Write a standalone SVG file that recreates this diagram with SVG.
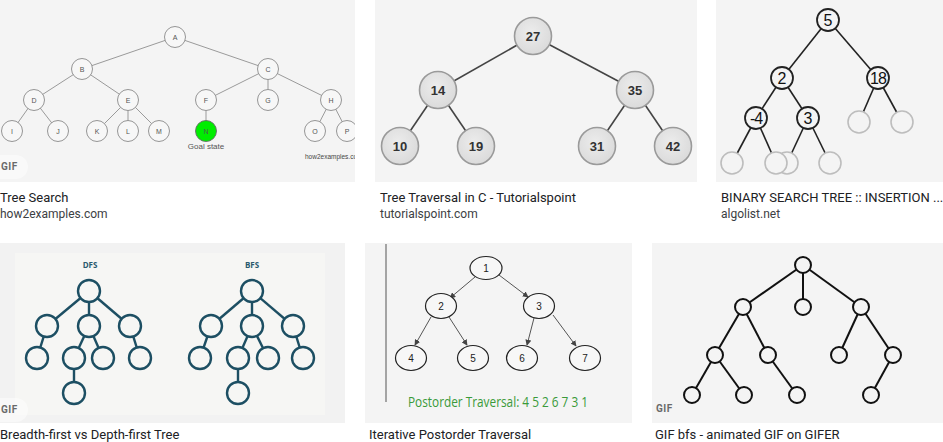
<svg xmlns="http://www.w3.org/2000/svg" width="943" height="442" viewBox="0 0 943 442">
<style>
.bg{fill:#f4f4f4}
.cap{font-family:Roboto,"Liberation Sans",sans-serif;font-size:13px;fill:#202124}
.src{font-family:Roboto,"Liberation Sans",sans-serif;font-size:12px;fill:#3c4043}
.gif{font-family:Roboto,"Liberation Sans",sans-serif;font-size:10px;font-weight:bold;fill:#6a6a6a;letter-spacing:0.5px}
.pill{fill:#ffffff;fill-opacity:0.45}
.e1{stroke:#9a9a9a;stroke-width:1}
.n1{fill:#f7f7f7;stroke:#8a8a8a;stroke-width:0.9}
.t1{font-family:"Liberation Sans",Arial,sans-serif;font-size:7px;fill:#555;text-anchor:middle;dominant-baseline:central}
.e2{stroke:#444;stroke-width:1.6}
.n2{fill:url(#g2);stroke:#9a9a9a;stroke-width:1.6}
.t2{font-family:"Liberation Sans",Arial,sans-serif;font-size:13px;font-weight:bold;fill:#333;text-anchor:middle;dominant-baseline:central}
.e3{stroke:#222;stroke-width:1.6}
.n3{fill:#f4f4f4;stroke:#222;stroke-width:1.8}
.g3{fill:#f4f4f4;stroke:#bdbdbd;stroke-width:1.6}
.t3{font-family:"Liberation Sans",Arial,sans-serif;font-size:16px;fill:#111;text-anchor:middle;dominant-baseline:central}
.e4{stroke:#1d4f63;stroke-width:2.4}
.n4{fill:#f6f6f4;stroke:#1d4f63;stroke-width:2.4}
.t4{font-family:"Open Sans","Liberation Sans",sans-serif;font-size:8px;font-weight:bold;fill:#2a5a6e;text-anchor:middle}
.e5{stroke:#555;stroke-width:1;marker-end:url(#ar)}
.n5{fill:#f7f7f7;stroke:#222;stroke-width:1.2}
.t5{font-family:"Liberation Sans",Arial,sans-serif;font-size:10px;fill:#222;text-anchor:middle;dominant-baseline:central}
.e6{stroke:#111;stroke-width:2}
.n6{fill:#f4f4f4;stroke:#111;stroke-width:2}
</style>
<defs>
<radialGradient id="g2" cx="0.45" cy="0.4" r="0.65">
<stop offset="0" stop-color="#ececec"/>
<stop offset="1" stop-color="#d9d9d9"/>
</radialGradient>
<marker id="ar" viewBox="0 0 8 8" refX="7" refY="4" markerWidth="6" markerHeight="6" orient="auto" markerUnits="userSpaceOnUse">
<path d="M0,0 L8,4 L0,8 z" fill="#444"/>
</marker>
<clipPath id="c1"><rect x="0" y="0" width="355" height="182"/></clipPath>
</defs>
<rect width="943" height="442" fill="#ffffff"/>

<!-- Panel 1: Tree Search -->
<g id="panel1" clip-path="url(#c1)">
<rect class="bg" x="0" y="0" width="355" height="182"/>
<g id="p1-edges">
<line class="e1" x1="175" y1="37" x2="82" y2="69"/>
<line class="e1" x1="175" y1="37" x2="268" y2="69"/>
<line class="e1" x1="82" y1="69" x2="34" y2="100"/>
<line class="e1" x1="82" y1="69" x2="128" y2="100"/>
<line class="e1" x1="268" y1="69" x2="206" y2="100"/>
<line class="e1" x1="268" y1="69" x2="268" y2="100"/>
<line class="e1" x1="268" y1="69" x2="331" y2="100"/>
<line class="e1" x1="34" y1="100" x2="12" y2="131"/>
<line class="e1" x1="34" y1="100" x2="58" y2="131"/>
<line class="e1" x1="128" y1="100" x2="97" y2="131"/>
<line class="e1" x1="128" y1="100" x2="128" y2="131"/>
<line class="e1" x1="128" y1="100" x2="159" y2="131"/>
<line class="e1" x1="206" y1="100" x2="206" y2="131"/>
<line class="e1" x1="331" y1="100" x2="315" y2="131"/>
<line class="e1" x1="331" y1="100" x2="347" y2="131"/>
</g>
<g id="p1-A"><circle class="n1" cx="175" cy="37" r="10.5"/><text class="t1" x="175" y="37">A</text></g>
<g id="p1-B"><circle class="n1" cx="82" cy="69" r="10.5"/><text class="t1" x="82" y="69">B</text></g>
<g id="p1-C"><circle class="n1" cx="268" cy="69" r="10.5"/><text class="t1" x="268" y="69">C</text></g>
<g id="p1-D"><circle class="n1" cx="34" cy="100" r="10.5"/><text class="t1" x="34" y="100">D</text></g>
<g id="p1-E"><circle class="n1" cx="128" cy="100" r="10.5"/><text class="t1" x="128" y="100">E</text></g>
<g id="p1-F"><circle class="n1" cx="206" cy="100" r="10.5"/><text class="t1" x="206" y="100">F</text></g>
<g id="p1-G"><circle class="n1" cx="268" cy="100" r="10.5"/><text class="t1" x="268" y="100">G</text></g>
<g id="p1-H"><circle class="n1" cx="331" cy="100" r="10.5"/><text class="t1" x="331" y="100">H</text></g>
<g id="p1-I"><circle class="n1" cx="12" cy="131" r="10.5"/><text class="t1" x="12" y="131">I</text></g>
<g id="p1-J"><circle class="n1" cx="58" cy="131" r="10.5"/><text class="t1" x="58" y="131">J</text></g>
<g id="p1-K"><circle class="n1" cx="97" cy="131" r="10.5"/><text class="t1" x="97" y="131">K</text></g>
<g id="p1-L"><circle class="n1" cx="128" cy="131" r="10.5"/><text class="t1" x="128" y="131">L</text></g>
<g id="p1-M"><circle class="n1" cx="159" cy="131" r="10.5"/><text class="t1" x="159" y="131">M</text></g>
<g id="p1-N"><circle cx="206" cy="131" r="10.5" fill="#00ee00" stroke="#6a6a6a" stroke-width="0.9"/><text class="t1" x="206" y="131">N</text></g>
<g id="p1-O"><circle class="n1" cx="315" cy="131" r="10.5"/><text class="t1" x="315" y="131">O</text></g>
<g id="p1-P"><circle class="n1" cx="347" cy="131" r="10.5"/><text class="t1" x="347" y="131">P</text></g>
<text x="206" y="149" font-family="'Liberation Sans',Arial,sans-serif" font-size="8" fill="#555" text-anchor="middle">Goal state</text>
<text x="305" y="159" font-family="'Liberation Sans',Arial,sans-serif" font-size="6.5" fill="#444">how2examples.com</text>
<rect class="pill" x="-12" y="155" width="40" height="24" rx="12"/>
<text class="gif" x="1" y="170">GIF</text>
</g>
<text class="cap" x="0" y="202">Tree Search</text>
<text class="src" x="0" y="218">how2examples.com</text>

<!-- Panel 2: Tree Traversal -->
<g id="panel2">
<rect class="bg" x="375" y="0" width="322" height="182" fill="#f2f2f2"/>
<g id="p2-edges">
<line class="e2" x1="533" y1="36" x2="438" y2="90"/>
<line class="e2" x1="533" y1="36" x2="635" y2="90"/>
<line class="e2" x1="438" y1="90" x2="400" y2="146"/>
<line class="e2" x1="438" y1="90" x2="476" y2="146"/>
<line class="e2" x1="635" y1="90" x2="597" y2="146"/>
<line class="e2" x1="635" y1="90" x2="673" y2="146"/>
</g>
<g id="p2-27"><circle class="n2" cx="533" cy="36" r="18.5"/><text class="t2" x="533" y="36">27</text></g>
<g id="p2-14"><circle class="n2" cx="438" cy="90" r="18.5"/><text class="t2" x="438" y="90">14</text></g>
<g id="p2-35"><circle class="n2" cx="635" cy="90" r="18.5"/><text class="t2" x="635" y="90">35</text></g>
<g id="p2-10"><circle class="n2" cx="400" cy="146" r="18.5"/><text class="t2" x="400" y="146">10</text></g>
<g id="p2-19"><circle class="n2" cx="476" cy="146" r="18.5"/><text class="t2" x="476" y="146">19</text></g>
<g id="p2-31"><circle class="n2" cx="597" cy="146" r="18.5"/><text class="t2" x="597" y="146">31</text></g>
<g id="p2-42"><circle class="n2" cx="673" cy="146" r="18.5"/><text class="t2" x="673" y="146">42</text></g>
</g>
<text class="cap" x="380" y="202">Tree Traversal in C - Tutorialspoint</text>
<text class="src" x="380" y="218">tutorialspoint.com</text>

<!-- Panel 3: BST insertion -->
<g id="panel3">
<rect class="bg" x="716" y="0" width="227" height="182"/>
<g id="p3-edges">
<line class="e3" x1="828" y1="20" x2="782" y2="78"/>
<line class="e3" x1="828" y1="20" x2="878" y2="78"/>
<line class="e3" x1="782" y1="78" x2="756" y2="118"/>
<line class="e3" x1="782" y1="78" x2="808" y2="118"/>
<line class="e3" x1="878" y1="78" x2="859" y2="122"/>
<line class="e3" x1="878" y1="78" x2="902" y2="122"/>
<line class="e3" x1="756" y1="118" x2="732" y2="163"/>
<line class="e3" x1="756" y1="118" x2="776" y2="163"/>
<line class="e3" x1="808" y1="118" x2="787" y2="163"/>
<line class="e3" x1="808" y1="118" x2="830" y2="163"/>
</g>
<g id="p3-5"><circle class="n3" cx="828" cy="20" r="11"/><text class="t3" x="828" y="20">5</text></g>
<g id="p3-2"><circle class="n3" cx="782" cy="78" r="11"/><text class="t3" x="782" y="78">2</text></g>
<g id="p3-18"><circle class="n3" cx="878" cy="78" r="11"/><text class="t3" x="878" y="78" letter-spacing="-1">18</text></g>
<g id="p3-m4"><circle class="n3" cx="756" cy="118" r="11"/><text class="t3" x="756" y="118" letter-spacing="-1">-4</text></g>
<g id="p3-3"><circle class="n3" cx="808" cy="118" r="11"/><text class="t3" x="808" y="118">3</text></g>
<g id="p3-e1"><circle class="g3" cx="859" cy="122" r="11"/></g>
<g id="p3-e2"><circle class="g3" cx="902" cy="122" r="11"/></g>
<g id="p3-e3"><circle class="g3" cx="732" cy="163" r="11"/></g>
<g id="p3-e5"><circle class="g3" cx="787" cy="163" r="11"/></g>
<g id="p3-e4"><circle class="g3" cx="776" cy="163" r="11"/></g>
<g id="p3-e6"><circle class="g3" cx="830" cy="163" r="11"/></g>
</g>
<text class="cap" x="721" y="202">BINARY SEARCH TREE :: INSERTION ...</text>
<text class="src" x="721" y="218">algolist.net</text>

<!-- Panel 4: DFS vs BFS -->
<g id="panel4">
<rect x="0" y="243" width="345" height="180" fill="#f2f2f2"/>
<rect x="15" y="253" width="310" height="162" fill="#f6f6f4"/>
<text class="t4" x="90" y="268">DFS</text>
<text class="t4" x="252" y="268">BFS</text>
<g id="p4-edges">
<line class="e4" x1="89" y1="291" x2="47" y2="326"/>
<line class="e4" x1="89" y1="291" x2="89" y2="326"/>
<line class="e4" x1="89" y1="291" x2="130" y2="326"/>
<line class="e4" x1="47" y1="326" x2="37" y2="358"/>
<line class="e4" x1="89" y1="326" x2="74" y2="358"/>
<line class="e4" x1="89" y1="326" x2="103" y2="358"/>
<line class="e4" x1="130" y1="326" x2="140" y2="358"/>
<line class="e4" x1="74" y1="358" x2="74" y2="393"/>
<line class="e4" x1="252" y1="291" x2="211" y2="326"/>
<line class="e4" x1="252" y1="291" x2="252" y2="326"/>
<line class="e4" x1="252" y1="291" x2="293" y2="326"/>
<line class="e4" x1="211" y1="326" x2="200" y2="358"/>
<line class="e4" x1="252" y1="326" x2="238" y2="358"/>
<line class="e4" x1="252" y1="326" x2="268" y2="358"/>
<line class="e4" x1="293" y1="326" x2="303" y2="358"/>
<line class="e4" x1="238" y1="358" x2="238" y2="393"/>
</g>
<g id="p4-d1"><circle class="n4" cx="89" cy="291" r="11"/></g>
<g id="p4-d2"><circle class="n4" cx="47" cy="326" r="11"/></g>
<g id="p4-d3"><circle class="n4" cx="89" cy="326" r="11"/></g>
<g id="p4-d4"><circle class="n4" cx="130" cy="326" r="11"/></g>
<g id="p4-d5"><circle class="n4" cx="37" cy="358" r="11"/></g>
<g id="p4-d6"><circle class="n4" cx="74" cy="358" r="11"/></g>
<g id="p4-d7"><circle class="n4" cx="103" cy="358" r="11"/></g>
<g id="p4-d8"><circle class="n4" cx="140" cy="358" r="11"/></g>
<g id="p4-d9"><circle class="n4" cx="74" cy="393" r="11"/></g>
<g id="p4-b1"><circle class="n4" cx="252" cy="291" r="11"/></g>
<g id="p4-b2"><circle class="n4" cx="211" cy="326" r="11"/></g>
<g id="p4-b3"><circle class="n4" cx="252" cy="326" r="11"/></g>
<g id="p4-b4"><circle class="n4" cx="293" cy="326" r="11"/></g>
<g id="p4-b5"><circle class="n4" cx="200" cy="358" r="11"/></g>
<g id="p4-b6"><circle class="n4" cx="238" cy="358" r="11"/></g>
<g id="p4-b7"><circle class="n4" cx="268" cy="358" r="11"/></g>
<g id="p4-b8"><circle class="n4" cx="303" cy="358" r="11"/></g>
<g id="p4-b9"><circle class="n4" cx="238" cy="393" r="11"/></g>
<rect class="pill" x="-12" y="398" width="40" height="24" rx="12"/>
<text class="gif" x="1" y="413">GIF</text>
</g>
<text class="cap" x="0" y="439">Breadth-first vs Depth-first Tree</text>

<!-- Panel 5: Iterative Postorder -->
<g id="panel5">
<rect class="bg" x="365" y="243" width="267" height="180"/>
<line x1="386" y1="244" x2="386" y2="402" stroke="#555" stroke-width="1"/>
<g id="p5-edges">
<line class="e5" x1="475" y1="277" x2="450" y2="298"/>
<line class="e5" x1="499" y1="275" x2="528" y2="297"/>
<line class="e5" x1="431" y1="317" x2="415" y2="345"/>
<line class="e5" x1="449" y1="317" x2="467" y2="345"/>
<line class="e5" x1="534" y1="318" x2="527" y2="345"/>
<line class="e5" x1="553" y1="315" x2="576" y2="346"/>
</g>
<g id="p5-1"><ellipse class="n5" cx="486" cy="268" rx="16" ry="11.5"/><text class="t5" x="486" y="268">1</text></g>
<g id="p5-2"><ellipse class="n5" cx="441" cy="306" rx="15.5" ry="12.5"/><text class="t5" x="441" y="306">2</text></g>
<g id="p5-3"><ellipse class="n5" cx="539" cy="306" rx="15.5" ry="12.5"/><text class="t5" x="539" y="306">3</text></g>
<g id="p5-4"><ellipse class="n5" cx="411" cy="358" rx="15.5" ry="12.5"/><text class="t5" x="411" y="358">4</text></g>
<g id="p5-5"><ellipse class="n5" cx="473" cy="358" rx="15.5" ry="12.5"/><text class="t5" x="473" y="358">5</text></g>
<g id="p5-6"><ellipse class="n5" cx="522" cy="358" rx="15.5" ry="12.5"/><text class="t5" x="522" y="358">6</text></g>
<g id="p5-7"><ellipse class="n5" cx="585" cy="358" rx="15.5" ry="12.5"/><text class="t5" x="585" y="358">7</text></g>
<text x="408" y="407" font-family="'Open Sans','Noto Sans',sans-serif" font-size="14" fill="#3a9a3a" textLength="180" lengthAdjust="spacingAndGlyphs">Postorder Traversal: 4 5 2 6 7 3 1</text>
</g>
<text class="cap" x="369" y="439">Iterative Postorder Traversal</text>

<!-- Panel 6: bfs gif -->
<g id="panel6">
<rect class="bg" x="652" y="243" width="291" height="180"/>
<g id="p6-edges">
<line class="e6" x1="803" y1="265" x2="743" y2="307"/>
<line class="e6" x1="803" y1="265" x2="803" y2="307"/>
<line class="e6" x1="803" y1="265" x2="861" y2="307"/>
<line class="e6" x1="743" y1="307" x2="715" y2="355"/>
<line class="e6" x1="743" y1="307" x2="768" y2="355"/>
<line class="e6" x1="861" y1="307" x2="839" y2="355"/>
<line class="e6" x1="861" y1="307" x2="893" y2="355"/>
<line class="e6" x1="715" y1="355" x2="692" y2="395"/>
<line class="e6" x1="715" y1="355" x2="744" y2="395"/>
<line class="e6" x1="768" y1="355" x2="797" y2="395"/>
<line class="e6" x1="893" y1="355" x2="871" y2="395"/>
</g>
<g id="p6-n1"><circle class="n6" cx="803" cy="265" r="8"/></g>
<g id="p6-n2"><circle class="n6" cx="743" cy="307" r="8"/></g>
<g id="p6-n3"><circle class="n6" cx="803" cy="307" r="8"/></g>
<g id="p6-n4"><circle class="n6" cx="861" cy="307" r="8"/></g>
<g id="p6-n5"><circle class="n6" cx="715" cy="355" r="8"/></g>
<g id="p6-n6"><circle class="n6" cx="768" cy="355" r="8"/></g>
<g id="p6-n7"><circle class="n6" cx="839" cy="355" r="8"/></g>
<g id="p6-n8"><circle class="n6" cx="893" cy="355" r="8"/></g>
<g id="p6-n9"><circle class="n6" cx="692" cy="395" r="8"/></g>
<g id="p6-n10"><circle class="n6" cx="744" cy="395" r="8"/></g>
<g id="p6-n11"><circle class="n6" cx="797" cy="395" r="8"/></g>
<g id="p6-n12"><circle class="n6" cx="871" cy="395" r="8"/></g>
<text class="gif" x="656" y="412">GIF</text>
</g>
<text class="cap" x="655" y="439">GIF bfs - animated GIF on GIFER</text>
</svg>
